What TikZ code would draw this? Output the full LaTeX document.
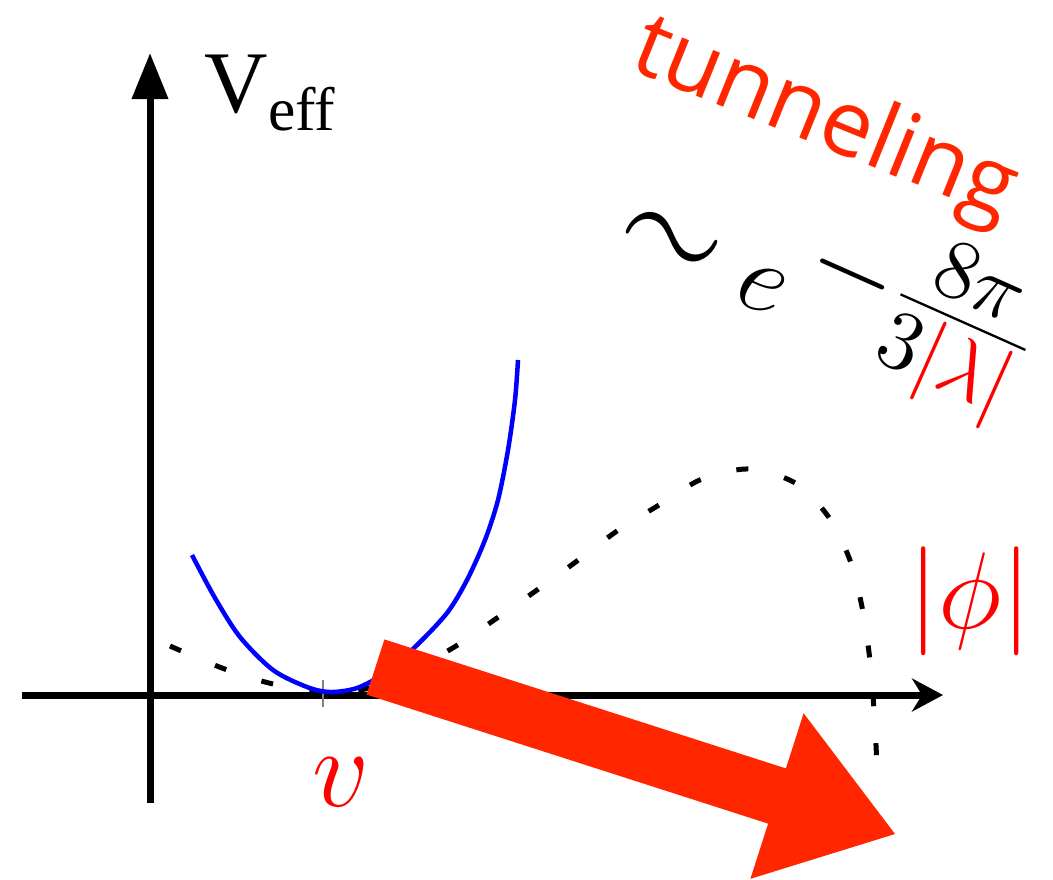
\RequirePackage{fix-cm}
\documentclass[tikz,border=0pt]{standalone}
\usepackage{fontspec}
\usepackage{graphicx}
\usetikzlibrary{arrows.meta}
\newfontfamily\tunnelfont{Open Sans}
\newfontfamily\axisfont{Liberation Serif}
\definecolor{tunnelRed}{RGB}{255,38,0}

\begin{document}
\begin{tikzpicture}[x=0.1mm, y=-0.1mm]
    \useasboundingbox (0,0) rectangle (1053,879);
    % Axes
    \draw[line width=0.7mm, -{Triangle[length=4.6mm, width=3.5mm]}] (150,803) -- (150,53);
    \draw[line width=0.7mm, -{Stealth[length=3.1mm, width=3.3mm, inset=1mm]}] (22,695) -- (943,695);
    \draw[gray, line width=0.12mm] (323,680) -- (323,707);
    % full potential (dashed)
    \draw[line width=0.5mm, dash pattern=on 1.2mm off 3.7mm] plot[smooth] coordinates {
        (170,646) (222,668) (269,683) (320,692) (365,689) (410,671) (456,646)
        (497,618) (537,590) (577,561) (617,531) (659,505) (702,479) (750,469)
        (797,484) (830,519) (851,563) (863,612) (870,661) (874,710) (877,765)};
    % quadratic around v
    \draw[blue, line width=0.45mm] plot[smooth] coordinates {
        (192,555) (215,598) (240,637) (273,670) (307,687) (330,692) (357,688)
        (385,673) (415,647) (447,613) (467,580) (485,540) (498,500) (508,450)
        (515,400) (518,360)};
    % Tunneling arrow
    \fill[tunnelRed] (384.4,639.4) -- (785.9,768.4) -- (803.6,713.2) -- (895,834)
        -- (750.4,878.8) -- (768.1,823.6) -- (366.6,694.6) -- cycle;
    % Labels
    \node[anchor=base west, inner sep=0] (veff) at (204,112)
        {\axisfont\fontsize{25}{30}\selectfont V\raisebox{-1.8mm}{\fontsize{17.5}{21}\selectfont eff}};
    \node[anchor=base west, inner sep=0, rotate=-22, text=tunnelRed] (tunnel) at (627,68)
        {\tunnelfont\fontsize{26}{31}\selectfont tunneling};
    \node[anchor=base west, inner sep=0, rotate=-24] (rate) at (611,246)
        {\fontsize{29}{35}\selectfont $\mathrel{\scalebox{1.3}{$\sim$}} e\kern1mm
         \raisebox{4.4mm}{\scalebox{1.6}{$\scriptstyle-$}\scalebox{1.66}{$\scriptstyle\frac{8\pi}{3\textcolor{red}{|\lambda|}}$}}$};
    \node[anchor=base, inner sep=0, text=red] (phi) at (970,628)
        {\fontsize{31}{37}\selectfont $|\phi|$};
    \node[anchor=base, inner sep=0, text=red] (vev) at (341,806)
        {\fontsize{32}{38}\selectfont $v$};
\end{tikzpicture}
\end{document}
